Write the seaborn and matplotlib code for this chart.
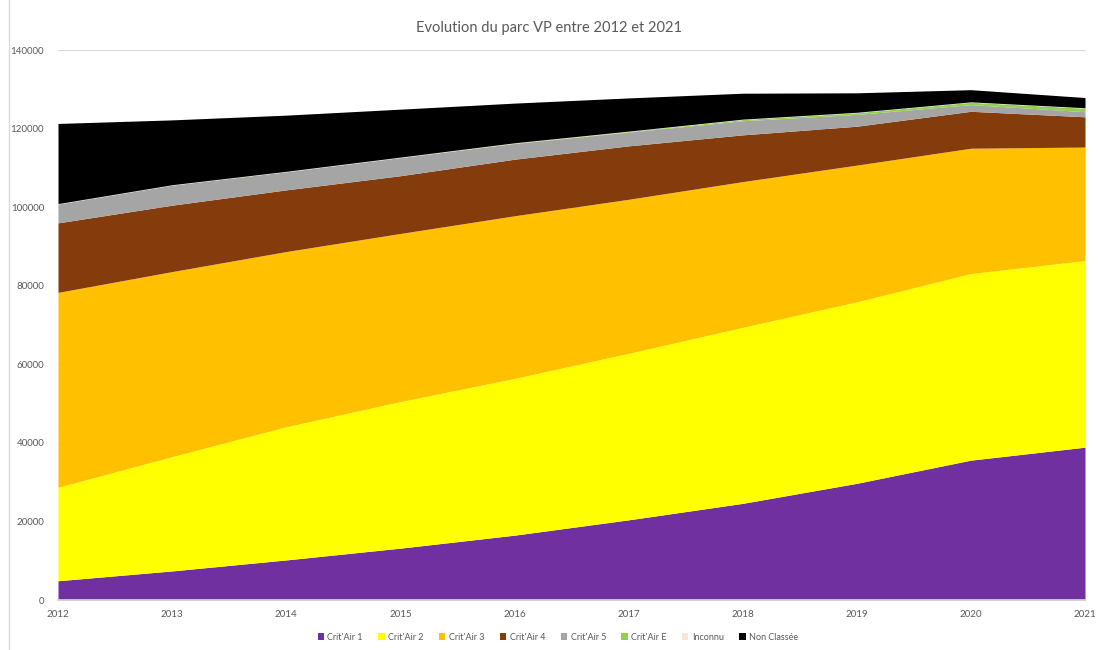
import matplotlib
matplotlib.use("Agg")
import matplotlib.pyplot as plt
from matplotlib.patches import Patch
import seaborn as sns
import pandas as pd

years = [2012, 2013, 2014, 2015, 2016, 2017, 2018, 2019, 2020, 2021]
crit1 = [4900, 7400, 10200, 13200, 16500, 20400, 24600, 29700, 35600, 38900]
crit2 = [23800, 29100, 33900, 37300, 39900, 42400, 44800, 46200, 47500, 47500]
crit3 = [49600, 47100, 44600, 42800, 41400, 39200, 37100, 34800, 31900, 28900]
crit4 = [17700, 16900, 15700, 14700, 14400, 13600, 11900, 9900, 9400, 7700]
crit5 = [4800, 5100, 4600, 4600, 4000, 3500, 3600, 3000, 1700, 1300]
crit_e = [0, 10, 20, 40, 80, 150, 300, 450, 600, 900]
inconnu = [100, 100, 100, 100, 100, 100, 100, 100, 100, 100]
non_classee = [20400, 16500, 14300, 12200, 10100, 8450, 6600, 4950, 3100, 2600]

labels = ["Crit'Air 1", "Crit'Air 2", "Crit'Air 3", "Crit'Air 4", "Crit'Air 5",
          "Crit'Air E", "Inconnu", "Non Classée"]
colors = ["#7030A0", "#FFFF00", "#FFC000", "#843C0C", "#A5A5A5",
          "#92D050", "#FBE5D6", "#000000"]

df = pd.DataFrame({"Année": years, labels[0]: crit1, labels[1]: crit2, labels[2]: crit3,
                   labels[3]: crit4, labels[4]: crit5, labels[5]: crit_e,
                   labels[6]: inconnu, labels[7]: non_classee})

sns.set_theme(style="white")
plt.rcParams["font.family"] = ["Lato", "DejaVu Sans"]

fig = plt.figure(figsize=(10.98, 6.5), dpi=100)
ax = fig.add_axes([58 / 1098, 1 - 600 / 650, (1085 - 58) / 1098, 550 / 650])

ax.stackplot(df["Année"], [df[l] for l in labels], colors=colors, linewidth=0, zorder=2)

ax.set_xlim(2012, 2021)
ax.set_ylim(0, 140000)
ax.set_xticks(years)
ax.set_yticks(range(0, 140001, 20000))
ax.yaxis.grid(True, color="#D9D9D9", linewidth=0.8, zorder=0)
ax.set_axisbelow(True)
sns.despine(ax=ax, left=True, top=True, right=True)
ax.spines["bottom"].set_color("#D9D9D9")
ax.tick_params(axis="x", colors="#595959", labelsize=7, length=4, color="#D9D9D9", pad=3)
ax.tick_params(axis="y", colors="#595959", labelsize=7, length=0, pad=10)

fig.suptitle("Evolution du parc VP entre 2012 et 2021", y=1 - 28 / 650, va="center",
             fontsize=10.5, color="#595959")

handles = [Patch(facecolor=c, edgecolor="none") for c in colors]
fig.legend(handles, labels, loc="center", bbox_to_anchor=(558 / 1098, 1 - 637 / 650),
           ncol=8, frameon=False, fontsize=6.5, labelcolor="#595959",
           handlelength=0.7, handleheight=0.7, handletextpad=0.4, columnspacing=1.7)

# light chart frame on the left like the spreadsheet export
fig.add_artist(plt.Line2D([9 / 1098, 9 / 1098], [0, 1], color="#D9D9D9", linewidth=1))

fig.savefig("out.png", dpi=100)
